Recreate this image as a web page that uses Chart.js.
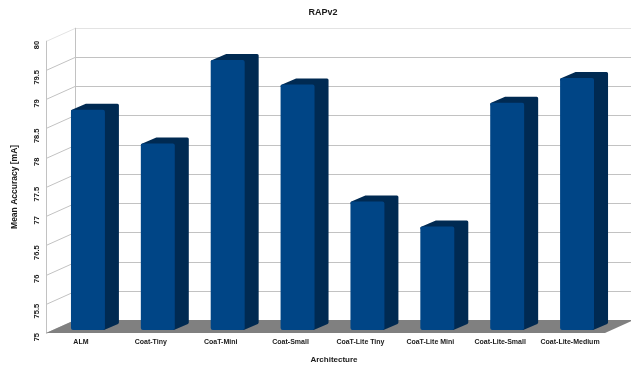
<!DOCTYPE html>
<html>
<head>
<meta charset="utf-8">
<title>RAPv2</title>
<script src="https://cdn.jsdelivr.net/npm/chart.js@4/dist/chart.umd.min.js"></script>
<style>
  html, body { margin: 0; padding: 0; background: #fff; }
  canvas { display: block; }
</style>
</head>
<body>
<canvas id="chart" width="631" height="366"></canvas>
<script>
const categories = ['ALM', 'Coat-Tiny', 'CoaT-Mini', 'Coat-Small', 'CoaT-Lite Tiny', 'CoaT-Lite Mini', 'Coat-Lite-Small', 'Coat-Lite-Medium'];
const accuracy = [78.77, 78.19, 79.62, 79.2, 77.2, 76.77, 78.89, 79.31];
const yMin = 75;
const yMax = 80;
const yStep = 0.5;

const FONT = '"Liberation Sans", Arial, sans-serif';
const TEXT = '#1a1a1a';
const FRONT = '#004586';
const SHADE = '#002a52';
const GRID = '#c2c2c2';
const FLOOR = '#808080';

// depth of the room, and of a bar standing in the middle of its floor
const ROOM = { dx: 29, dy: -13 };
const BAR_OFFSET = { dx: 7, dy: -3 };
const BAR_DEPTH = { dx: 14, dy: -6 };

function line(ctx, x1, y1, x2, y2, color) {
    ctx.strokeStyle = color;
    ctx.lineWidth = 1;
    ctx.beginPath();
    ctx.moveTo(x1, y1);
    ctx.lineTo(x2, y2);
    ctx.stroke();
}

/* ---------- walls and floor ---------- */
const room3d = {
    id: 'room3d',
    beforeDatasetsDraw(chart) {
        const ctx = chart.ctx;
        const a = chart.chartArea;
        const y = chart.scales.y;
        ctx.save();
        for (let v = yMin; v <= yMax; v += yStep) {
            const py = Math.round(y.getPixelForValue(v)) + 0.5;
            const color = v === yMax ? '#e3e3e3' : GRID;
            line(ctx, a.left, py, a.left + ROOM.dx, py + ROOM.dy, color);
            line(ctx, a.left + ROOM.dx, py + ROOM.dy, chart.width, py + ROOM.dy, color);
        }
        line(ctx, a.left + 0.5, a.top, a.left + 0.5, a.bottom, GRID);
        line(ctx, a.left + ROOM.dx + 0.5, a.top + ROOM.dy, a.left + ROOM.dx + 0.5, a.bottom + ROOM.dy, GRID);

        ctx.fillStyle = FLOOR;
        ctx.beginPath();
        ctx.moveTo(a.left, a.bottom);
        ctx.lineTo(a.right, a.bottom);
        ctx.lineTo(a.right + ROOM.dx, a.bottom + ROOM.dy);
        ctx.lineTo(a.left + ROOM.dx, a.bottom + ROOM.dy);
        ctx.closePath();
        ctx.fill();
        ctx.restore();
    }
};

/* ---------- side and top faces, taken from the bar elements ---------- */
const bars3d = {
    id: 'bars3d',
    beforeDatasetDraw(chart, args) {
        const ctx = chart.ctx;
        ctx.save();
        ctx.translate(BAR_OFFSET.dx, BAR_OFFSET.dy);
        args.meta.data.forEach(function (bar) {
            const left = bar.x - bar.width / 2;
            const right = bar.x + bar.width / 2;
            ctx.fillStyle = SHADE;
            ctx.strokeStyle = SHADE;
            ctx.lineWidth = 3;
            ctx.lineJoin = 'round';
            ctx.beginPath();
            ctx.moveTo(left + 1.5, bar.y + 1.5);
            ctx.lineTo(left + BAR_DEPTH.dx + 1.5, bar.y + BAR_DEPTH.dy + 1.5);
            ctx.lineTo(right + BAR_DEPTH.dx - 1.5, bar.y + BAR_DEPTH.dy + 1.5);
            ctx.lineTo(right + BAR_DEPTH.dx - 1.5, bar.base + BAR_DEPTH.dy - 1.5);
            ctx.lineTo(right - 1.5, bar.base - 1.5);
            ctx.lineTo(right - 1.5, bar.y + 1.5);
            ctx.closePath();
            ctx.fill();
            ctx.stroke();
        });
    },
    afterDatasetDraw(chart) {
        chart.ctx.restore();
    }
};

/* ---------- captions that sit off the centre of the plot ---------- */
const captions = {
    id: 'captions',
    afterLayout(chart) {
        // the main title centres on the whole room, depth included
        chart.titleBlock.right = chart.chartArea.right + ROOM.dx + 12;
    },
    afterDraw(chart) {
        const ctx = chart.ctx;
        const a = chart.chartArea;
        ctx.save();
        ctx.font = 'bold 8px ' + FONT;
        ctx.fillStyle = TEXT;
        ctx.textAlign = 'center';
        ctx.textBaseline = 'middle';
        ctx.fillText('Architecture', (a.left + a.right + ROOM.dx - 8) / 2 - 2, 360);
        ctx.restore();
    }
};

new Chart(document.getElementById('chart'), {
    type: 'bar',
    data: {
        labels: categories,
        datasets: [{
            label: 'RAPv2',
            data: accuracy,
            base: yMin,
            backgroundColor: FRONT,
            borderRadius: 2,
            borderSkipped: false,
            barPercentage: 0.486,
            categoryPercentage: 1,
            clip: false
        }]
    },
    options: {
        responsive: false,
        animation: false,
        layout: { padding: { right: 26 } },
        plugins: {
            legend: { display: false },
            tooltip: { enabled: false },
            title: {
                display: true,
                text: 'RAPv2',
                color: TEXT,
                font: { family: FONT, size: 9, weight: 'bold' },
                padding: { top: 7, bottom: 23 }
            }
        },
        scales: {
            x: {
                grid: { display: false, drawTicks: false },
                border: { display: false },
                ticks: {
                    color: TEXT,
                    font: { family: FONT, size: 7, weight: 'bold' },
                    autoSkip: false,
                    maxRotation: 0,
                    minRotation: 0,
                    padding: 5
                },
                afterFit(scale) { scale.height = 33; }
            },
            y: {
                min: yMin,
                max: yMax,
                grid: { display: false, drawTicks: false },
                border: { display: false },
                ticks: {
                    stepSize: yStep,
                    color: TEXT,
                    font: { family: FONT, size: 7.5, weight: 'bold' },
                    minRotation: 90,
                    maxRotation: 90,
                    padding: 9,
                    callback: function (v) { return String(v); }
                },
                title: {
                    display: true,
                    text: 'Mean Accuracy [mA]',
                    color: TEXT,
                    font: { family: FONT, size: 8.5, weight: 'bold' },
                    padding: { top: 10, bottom: 0 }
                },
                afterFit(scale) { scale.width = 46; }
            }
        }
    },
    plugins: [room3d, bars3d, captions]
});
</script>
</body>
</html>
